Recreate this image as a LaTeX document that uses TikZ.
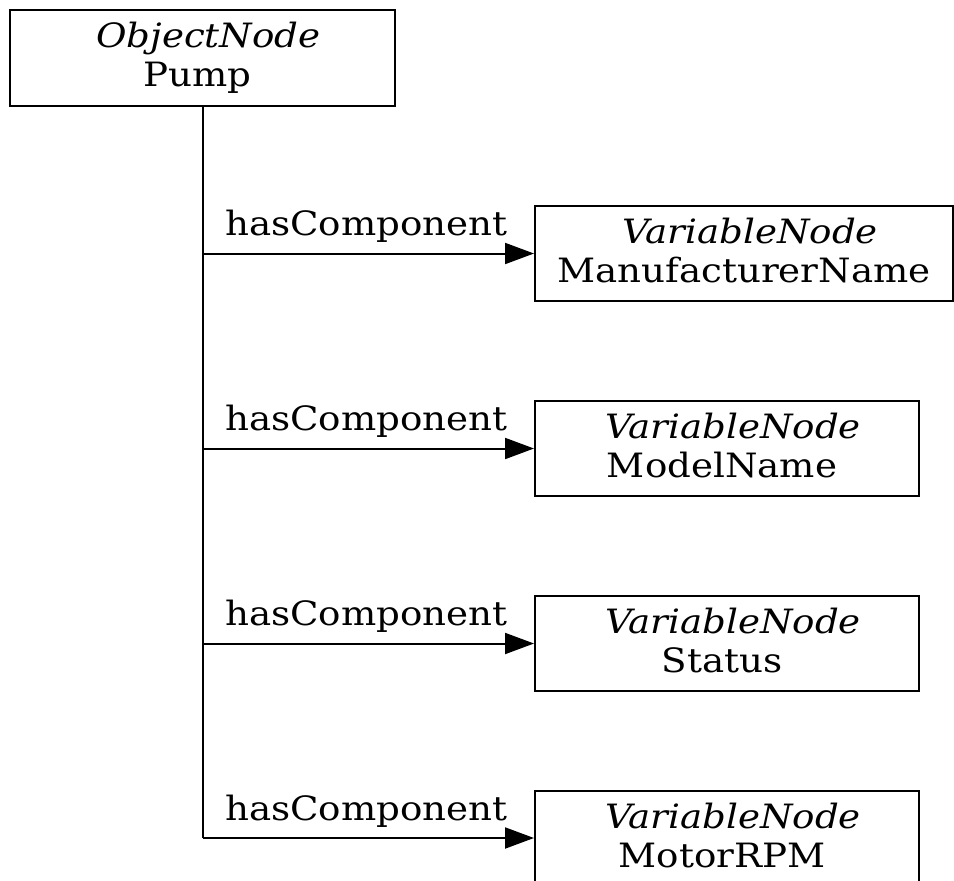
\documentclass[tikz,border=0pt]{standalone}
\usepackage{fontspec}
\setmainfont[FakeStretch=1.11]{DejaVu Serif}
\usetikzlibrary{arrows.meta}
\newcommand{\kindline}[1]{\hspace*{12pt}\textit{#1}}
\newcommand{\nameline}[1]{#1\hspace*{10pt}\rule[-5.5pt]{0pt}{5.5pt}}
\newcommand{\widename}[1]{#1\rule[-5.5pt]{0pt}{5.5pt}}
\begin{document}
\begin{tikzpicture}[x=1pt,y=1pt,
  box/.style={draw,line width=2pt,inner sep=0pt,align=center,
    font=\fontsize{33.5}{39}\selectfont},
  conn/.style={line width=2pt},
  arr/.style={line width=2pt,-{Triangle[length=29pt,width=21pt]}},
  lbl/.style={font=\fontsize{33.5}{39}\selectfont,anchor=base,inner sep=0pt,yshift=18pt,xshift=-2pt}]
\useasboundingbox (0,0) rectangle (954,-881);
\clip (0,0) rectangle (954,-881);
\node[box,minimum width=385pt,minimum height=96pt] (pump) at (202.5,-58) {\kindline{ObjectNode}\\\nameline{Pump}};
\node[box,minimum width=418pt,minimum height=95pt] (v1) at (744,-253.5) {\kindline{VariableNode}\\\widename{ManufacturerName}};
\node[box,minimum width=384pt,minimum height=95pt] (v2) at (727,-448.5) {\kindline{VariableNode}\\\nameline{ModelName}};
\node[box,minimum width=384pt,minimum height=95pt] (v3) at (727,-643.5) {\kindline{VariableNode}\\\nameline{Status}};
\node[box,minimum width=384pt,minimum height=95pt] (v4) at (727,-838) {\kindline{VariableNode}\\\nameline{MotorRPM}};
\coordinate (j1) at (203,-253.5);
\coordinate (j2) at (203,-448.5);
\coordinate (j3) at (203,-643.5);
\coordinate (j4) at (203,-838);
\draw[conn] (pump.south -| j1) -- (j4);
\draw[arr] (j1) -- node[lbl] {hasComponent} (v1.west);
\draw[arr] (j2) -- node[lbl] {hasComponent} (v2.west);
\draw[arr] (j3) -- node[lbl] {hasComponent} (v3.west);
\draw[arr] (j4) -- node[lbl] {hasComponent} (v4.west);
\end{tikzpicture}
\end{document}
